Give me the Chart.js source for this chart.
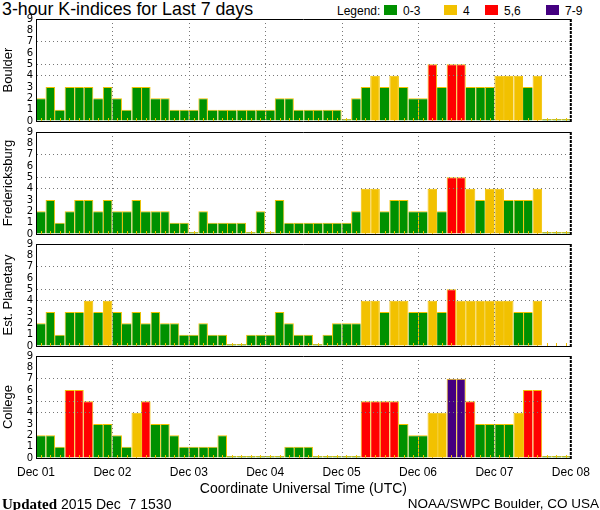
<!DOCTYPE html>
<html><head><meta charset="utf-8">
<script src="https://cdn.jsdelivr.net/npm/chart.js@4/dist/chart.umd.min.js"></script>
<style>
html,body{margin:0;padding:0;background:#fff;}
body{width:600px;height:510px;position:relative;overflow:hidden;font-family:"Liberation Sans",Arial,sans-serif;color:#000;}
canvas{position:absolute;left:0;}
.t{position:absolute;white-space:pre;line-height:1;}
.box{position:absolute;width:13px;height:10px;}
</style></head><body>
<div class="t" style="left:2px;top:1px;font-size:17.8px">3-hour K-indices for Last 7 days</div>
<div id="legend"></div>
<canvas id="c0" width="600" height="118" style="top:11px"></canvas>
<canvas id="c1" width="600" height="118" style="top:124px"></canvas>
<canvas id="c2" width="600" height="118" style="top:236px"></canvas>
<canvas id="c3" width="600" height="150" style="top:348px"></canvas>
<div class="t" style="left:2px;top:497px;font-size:14px"><span style="font-family:'Liberation Serif',serif;font-weight:bold;font-size:15px">Updated</span> 2015 Dec  7 1530</div>
<div class="t" style="right:1px;top:497px;font-size:13.5px">NOAA/SWPC Boulder, CO USA</div>
<script>
// ---- data ----
const days = ['Dec 01','Dec 02','Dec 03','Dec 04','Dec 05','Dec 06','Dec 07'];
const hours = ['00','03','06','09','12','15','18','21'];
const dayTicks = ['Dec 01','Dec 02','Dec 03','Dec 04','Dec 05','Dec 06','Dec 07','Dec 08'];
const stations = ['Boulder','Fredericksburg','Est. Planetary','College'];
const boulder = [2,3,1,3,3,3,2,3, 2,1,3,3,2,2,1,1, 1,2,1,1,1,1,1,1, 1,2,2,1,1,1,1,1, 0,2,3,4,3,4,3,2, 2,5,3,5,5,3,3,3, 4,4,4,3,4,0,0,0];
const fredericksburg = [2,3,1,2,3,3,2,3, 2,2,3,2,2,2,1,1, 0,2,1,1,1,1,0,2, 0,3,1,1,1,1,1,1, 1,2,4,4,2,3,3,2, 2,4,2,5,5,4,3,4, 4,3,3,3,4,0,0,0];
const estPlanetary = [2,3,1,3,3,4,3,4, 3,2,3,2,3,2,2,1, 1,2,1,1,0,0,1,1, 1,3,2,1,1,0,1,2, 2,2,4,4,3,4,4,3, 3,4,3,5,4,4,4,4, 4,4,3,3,4,null,null,null];
const college = [2,2,1,6,6,5,3,3, 2,1,4,5,3,3,2,1, 1,1,1,2,0,0,0,0, 0,0,1,1,1,0,0,0, 0,0,5,5,5,5,3,2, 2,4,4,7,7,5,3,3, 3,3,4,6,6,0,0,0];
const classLabels = ['0-3','4','5,6','7-9'];
const classColors = ['#009100','#F2C100','#FF0000','#440080'];
const gridLevels = [4,5,7];

// ---- styles ----
const BORDER = '#F2C100';
const GRID = '#777777';
const slots = days.flatMap(d => hours.map(h => d + ' ' + h));

// legend
(function(){
  const L = document.getElementById('legend');
  const t = document.createElement('div'); t.className='t'; t.style.cssText='left:337px;top:5px;font-size:12px'; t.textContent='Legend:'; L.appendChild(t);
  const boxX = [384,444,485,546];
  classLabels.forEach((lab,i)=>{
    const b=document.createElement('div'); b.className='box'; b.style.cssText='left:'+boxX[i]+'px;top:5px;background:'+classColors[i]; L.appendChild(b);
    const s=document.createElement('div'); s.className='t'; s.style.cssText='left:'+(boxX[i]+19)+'px;top:5px;font-size:12px'; s.textContent=lab; L.appendChild(s);
  });
})();

function colorFor(v){
  if (v == null) return 'rgba(0,0,0,0)';
  if (v <= 3) return classColors[0];
  if (v === 4) return classColors[1];
  if (v <= 6) return classColors[2];
  return classColors[3];
}
function borderFor(vals){
  return (c) => {
    const i = c.dataIndex, v = vals[i];
    if (v == null) return 0;
    const prev = i > 0 ? vals[i-1] : null;
    const next = i < vals.length - 1 ? vals[i+1] : null;
    return {top:1, bottom:0, left:(prev == null || v >= prev) ? 1 : 0, right:(next == null || v > next) ? 1 : 0};
  };
}

const frame = {
  id:'frame',
  afterDatasetsDraw(chart){
    const {ctx, chartArea:a, scales} = chart;
    const xs = scales.x, xd = scales.xd;
    ctx.save();
    // small 3-hour marks along the base
    ctx.strokeStyle = BORDER; ctx.lineWidth = 1;
    ctx.beginPath();
    for (let i = 0; i < slots.length; i++){
      const px = Math.round(xs.getPixelForValue(i)) + 0.5;
      ctx.moveTo(px, a.bottom - 3); ctx.lineTo(px, a.bottom);
    }
    ctx.stroke();
    // dotted day separators (drawn over the bars)
    ctx.strokeStyle = GRID; ctx.setLineDash([1,3]);
    ctx.beginPath();
    for (let d = 1; d < dayTicks.length - 1; d++){
      const px = Math.round(xd.getPixelForValue(d)) + 0.5;
      ctx.moveTo(px, a.top); ctx.lineTo(px, a.bottom);
    }
    ctx.stroke();
    ctx.restore();
  },
  afterDraw(chart){
    const {ctx, chartArea:a} = chart;
    ctx.save();
    ctx.strokeStyle = '#000'; ctx.lineWidth = 1;
    ctx.beginPath(); ctx.moveTo(a.left, Math.round(a.top) + 0.5); ctx.lineTo(a.right, Math.round(a.top) + 0.5); ctx.stroke();
    ctx.lineWidth = 2; ctx.setLineDash([3,1]);
    ctx.beginPath(); ctx.moveTo(a.right, a.top); ctx.lineTo(a.right, a.bottom + 1); ctx.stroke();
    ctx.restore();
  }
};

function makeChart(id, station, values, last){
  return new Chart(document.getElementById(id), {
    type:'bar',
    data:{ labels: slots, datasets:[{
      data: values,
      backgroundColor: c => colorFor(values[c.dataIndex]),
      borderColor: BORDER,
      borderWidth: borderFor(values),
      borderSkipped: 'start',
      barPercentage: 1, categoryPercentage: 1,
      minBarLength: 2, inflateAmount: 0,
      xAxisID:'x', yAxisID:'y'
    }]},
    options:{
      responsive:false, animation:false, events:[],
      layout:{padding:{left:0, right:29.2, top:8, bottom:0}},
      plugins:{legend:{display:false}, tooltip:{enabled:false}, title:{display:false}},
      scales:{
        x:{type:'category', display:false, offset:true},
        xd:{type:'linear', position:'bottom', min:0, max:7, offset:false,
          afterBuildTicks: s => { s.ticks = dayTicks.map((_, i) => ({value:i})); },
          ticks:{display:last, autoSkip:false, maxRotation:0, padding:7, color:'#000',
            font:{family:'Liberation Sans', size:12}, callback: v => dayTicks[v]},
          grid:{display:false, drawTicks:false},
          border:{display:true, color:'#000', width:1, z:1},
          title:{display:last, text:'Coordinate Universal Time (UTC)', color:'#000', font:{family:'Liberation Sans', size:14}, padding:{top:0,bottom:0}},
          afterFit: s => { s.height = last ? 40 : 8; s.paddingLeft = 0; s.paddingRight = 0; }
        },
        y:{min:0, max:9,
          ticks:{stepSize:1, autoSkip:false, padding:3, color:'#000', font:{family:'DejaVu Sans', size:10}},
          grid:{color: c => (c.tick && gridLevels.includes(c.tick.value)) ? GRID : 'rgba(0,0,0,0)', drawTicks:false, z:1},
          border:{display:true, color:'#000', width:1, dash:[1,3], z:1},
          title:{display:true, text:station, color:'#000', font:{family:'Liberation Sans', size:13}, padding:{top:1,bottom:0}},
          afterFit: s => { s.width = 36; s.paddingTop = 0; s.paddingBottom = 0; }
        }
      }
    },
    plugins:[frame]
  });
}

makeChart('c0', stations[0], boulder, false);
makeChart('c1', stations[1], fredericksburg, false);
makeChart('c2', stations[2], estPlanetary, false);
makeChart('c3', stations[3], college, true);
</script>
</body></html>
